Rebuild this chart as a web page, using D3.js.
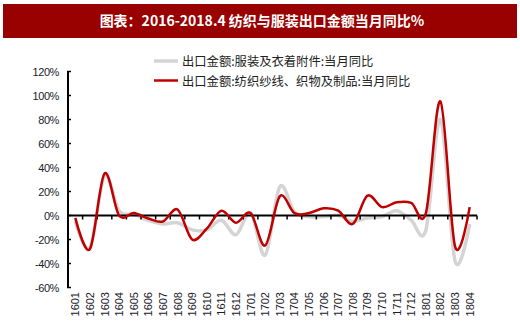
<!DOCTYPE html>
<html>
<head>
<meta charset="utf-8">
<script src="https://cdn.jsdelivr.net/npm/d3@7/dist/d3.min.js"></script>
<style>
  html, body { margin: 0; padding: 0; background: #fff; }
  svg { display: block; }
</style>
</head>
<body>
<svg id="chart" width="520" height="329"></svg>
<script>
// Monthly year-on-year growth of exports (%), Jan 2016 – Apr 2018
const months = ["1601","1602","1603","1604","1605","1606","1607","1608","1609","1610","1611","1612",
                "1701","1702","1703","1704","1705","1706","1707","1708","1709","1710","1711","1712",
                "1801","1802","1803","1804"];
// 出口金额:服装及衣着附件:当月同比
const apparel = [-5, -27, 33, 4, 1, -4, -7, -6, -12, -12, -4, -16,
                 2, -33, 24, 3, -1, -1, 0, -5, -2, -1, 4, -4,
                 -12, 80, -38, -7];
// 出口金额:纺织纱线、织物及制品:当月同比
const textile = [-2, -28, 35, 0, 2, -2.5, -5, 5, -20, -11, 4, -6,
                 2, -25, 16, 2, 2, 6, 4, -7, 16.5, 7, 11, 10.5,
                 2, 95, -26, 7];
const yTicks = [-60, -40, -20, 0, 20, 40, 60, 80, 100, 120];
const titleText = "图表：2016-2018.4 纺织与服装出口金额当月同比%";
const legendLabels = ["出口金额:服装及衣着附件:当月同比", "出口金额:纺织纱线、织物及制品:当月同比"];

const svg = d3.select("#chart");

// title banner
svg.append("rect").attr("x", 3).attr("y", 4).attr("width", 514).attr("height", 34).attr("fill", "#990000");
svg.append("text")
  .attr("x", 262).attr("y", 26)
  .attr("text-anchor", "middle")
  .attr("fill", "#fff")
  .attr("font-family", "'Noto Sans CJK SC', sans-serif")
  .attr("font-weight", "bold")
  .attr("font-size", 14)
  .text(titleText);

const x = d3.scaleBand().domain(months).range([68, 477]);
const y = d3.scaleLinear().domain([-60, 120]).range([287.5, 71.5]);
const cx = m => x(m) + x.bandwidth() / 2;

// y axis
const yAxis = svg.append("g");
yAxis.append("line").attr("x1", 68).attr("x2", 68).attr("y1", y(120)).attr("y2", y(-60))
  .attr("stroke", "#000").attr("stroke-width", 2);
yAxis.selectAll("line.tick").data(yTicks).join("line")
  .attr("class", "tick")
  .attr("x1", 67).attr("x2", 71)
  .attr("y1", d => y(d)).attr("y2", d => y(d))
  .attr("stroke", "#000").attr("stroke-width", 1.5);
yAxis.selectAll("text").data(yTicks).join("text")
  .attr("x", 59).attr("y", d => y(d) + 4)
  .attr("text-anchor", "end")
  .attr("font-family", "'Liberation Sans Narrow', 'Arial Narrow', 'Liberation Sans', sans-serif")
  .attr("font-size", 11)
  .attr("letter-spacing", -0.4)
  .attr("fill", "#1a1a2a")
  .text(d => d + "%");

// series lines
const line = data => d3.line()
  .x((d, i) => cx(months[i]))
  .y(d => y(d))
  .curve(d3.curveCardinal.tension(0))(data);

svg.append("path").attr("d", line(apparel))
  .attr("fill", "none").attr("stroke", "#d4d4d4").attr("stroke-width", 3.5)
  .attr("stroke-linejoin", "round");

// x axis along zero
const xAxis = svg.append("g");
xAxis.append("line").attr("x1", 68).attr("x2", 477).attr("y1", y(0)).attr("y2", y(0))
  .attr("stroke", "#000").attr("stroke-width", 2);
xAxis.selectAll("line.tick").data(months).join("line")
  .attr("class", "tick")
  .attr("x1", d => x(d) + x.bandwidth())
  .attr("x2", d => x(d) + x.bandwidth())
  .attr("y1", y(0)).attr("y2", y(0) + 4)
  .attr("stroke", "#000").attr("stroke-width", 1.5);

svg.append("path").attr("d", line(textile))
  .attr("fill", "none").attr("stroke", "#c00000").attr("stroke-width", 2.5)
  .attr("stroke-linejoin", "round");

// month labels, rotated
svg.append("g").selectAll("text").data(months).join("text")
  .attr("transform", d => `translate(${cx(d) + 4},292) rotate(-90)`)
  .attr("text-anchor", "end")
  .attr("font-family", "'Liberation Sans', Arial, sans-serif")
  .attr("font-size", 11)
  .attr("fill", "#1a1a2a")
  .text(d => d);

// legend
const legend = svg.append("g");
const legendColors = ["#d4d4d4", "#c00000"];
const legendWidths = [3.5, 2.5];
legendLabels.forEach((lab, i) => {
  const ly = 61 + i * 19.5;
  legend.append("line").attr("x1", 154).attr("x2", 178).attr("y1", ly).attr("y2", ly)
    .attr("stroke", legendColors[i]).attr("stroke-width", legendWidths[i]);
  legend.append("text").attr("x", 182).attr("y", ly + 5)
    .attr("font-family", "'Noto Sans CJK SC', sans-serif")
    .attr("font-size", 12.3)
    .attr("fill", "#222")
    .text(lab);
});
</script>
</body>
</html>
